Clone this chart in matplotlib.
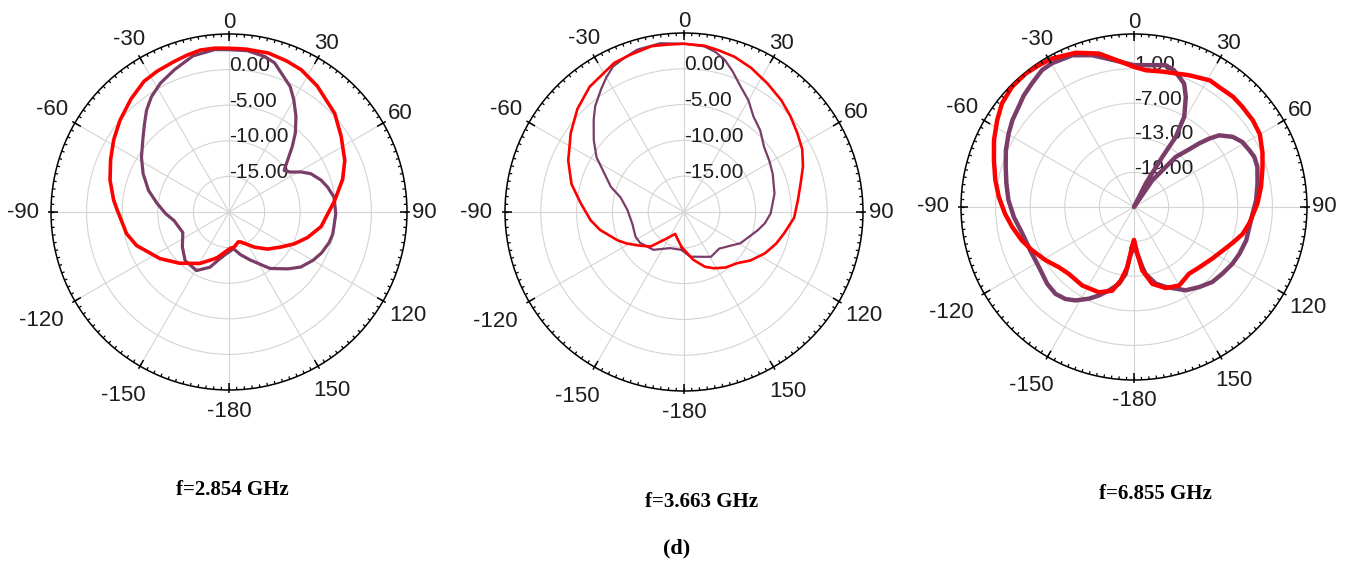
import numpy as np
import matplotlib
matplotlib.use("Agg")
import matplotlib.pyplot as plt

# ---- data (angle in deg, gain in dB) ----
# f = 2.854 GHz
red1_th = [-165, -150.5, -136, -124, -110, -102, -89, -84, -75, -66, -58, -50, -41, -33, -27, -20,
           -15, -10, -5, 0, 6, 14, 21, 27, 35, 47, 56, 66, 74, 84, 99, 108, 116, 124, 134, 144,
           159, 163, 172, 178]
red1_db = [-13.3, -11.7, -10.0, -8.3, -6.2, -5.3, -4.3, -3.7, -2.7, -1.8, -0.9, 0.0, 1.0, 1.9,
           2.2, 2.5, 2.8, 3.1, 3.1, 3.0, 3.0, 3.0, 2.7, 2.4, 1.6, 0.3, -1.0, -2.2, -3.4, -5.1,
           -6.9, -8.4, -9.8, -11.2, -12.5, -13.9, -15.5, -15.6, -15.0, -14.9]
pur1_th = [-171, -161, -151, -138, -127, -114, -99, -91.5, -83, -75, -66, -58, -50, -44, -39, -34,
           -28, -21, -13, -5, 0, 6.5, 13, 17, 22, 26, 30, 35, 40, 44, 48.5, 53, 57, 61, 65, 71,
           76, 82, 91, 102, 107, 114, 120, 127.5, 134, 144, 156, 165, 173]
pur1_db = [-13.6, -11.8, -10.6, -10.8, -11.8, -12.9, -12.2, -11.1, -9.8, -8.3, -6.8, -5.5, -4.2,
           -2.9, -1.6, -0.5, 0.5, 1.4, 2.5, 2.9, 2.8, 2.8, 2.4, 1.9, 0.5, -0.4, -1.8, -3.6, -5.5,
           -7.2, -9.0, -10.3, -9.7, -8.4, -7.3, -6.3, -5.7, -5.1, -5.0, -5.1, -5.3, -5.8, -6.4,
           -7.3, -8.5, -10.2, -12.6, -13.8, -14.8]

# f = 3.663 GHz
red2_th = [-176, -168, -158, -147, -136, -127, -119, -113, -102, -95, -85, -76, -66, -55, -46, -37,
           -25, -19, -11, -6, 0, 7, 12, 18, 25, 33, 41, 48, 55, 62, 69, 76, 84, 93, 102, 109, 117,
           126, 134, 143, 152, 159, 169]
red2_db = [-15.1, -16.0, -16.7, -15.6, -13.3, -12.2, -10.9, -9.9, -8.0, -6.9, -5.5, -3.8, -2.3,
           -0.7, 0.7, 1.9, 3.0, 3.2, 3.6, 3.5, 3.5, 3.4, 3.1, 2.8, 2.2, 1.4, 0.7, 0.0, -0.7, -1.3,
           -2.2, -3.2, -4.0, -4.6, -5.7, -6.4, -7.3, -8.5, -9.7, -10.3, -11.1, -11.8, -13.2]
pur2_th = [-176, -159, -141, -125, -117, -103, -88, -77, -71, -64, -58, -51.5, -44.5, -40, -34,
           -30, -26, -21, -16, -8, 0, 7, 11, 15, 19, 24, 30, 36, 43, 51, 59, 66.5, 78.5, 91, 98,
           104, 119, 136, 149, 157, 172]
pur2_db = [-14.7, -14.6, -13.2, -12.5, -12.4, -12.6, -12.1, -10.9, -9.2, -7.6, -5.6, -3.9, -2.0,
           -0.7, 0.7, 1.7, 2.6, 3.1, 3.6, 3.8, 3.5, 3.3, 2.8, 2.0, 0.8, -0.7, -2.0, -3.5, -4.4,
           -5.6, -6.1, -6.5, -7.1, -7.9, -8.6, -9.4, -11.0, -12.9, -12.7, -13.2, -13.7]

# f = 6.855 GHz
red3_th = [-177, -173.7, -169.7, -165.4, -157.6, -146.6, -135.7, -128.7, -121, -113, -106.6,
           -99.3, -93, -85.8, -79, -71.6, -64.5, -57.6, -51.9, -45.4, -39, -33.8, -28.8, -20.7,
           -12.9, -7, 0, 5, 12, 23, 31, 35, 42, 47, 54, 60, 67, 73, 81, 88.5, 98, 104, 110, 123,
           133, 140.5, 150, 158.6, 166.6, 172.5, 176, 180]
red3_db = [-18.0, -14.5, -12.0, -10.0, -9.0, -8.7, -8.8, -8.3, -7.1, -5.8, -4.7, -3.6, -2.6, -1.5,
           -0.5, 0.6, 1.9, 3.1, 4.1, 4.7, 4.8, 4.6, 4.4, 3.6, 2.3, 0.7, -0.7, -1.2, -1.0, -0.2,
           0.6, 0.5, 0.7, 0.6, 0.5, 0.2, -0.8, -1.7, -2.7, -3.6, -4.8, -5.6, -6.8, -8.7, -9.6,
           -10.0, -9.3, -9.9, -11.3, -13.9, -16.9, -19.3]
pur3_th = [-177.5, -174.6, -172.9, -168.9, -163.3, -158.4, -153.9, -148, -143.3, -137.9, -131.5,
           -122.3, -112.8, -103.4, -94.8, -86.9, -79.6, -72.7, -66.1, -59.6, -54.5, -49, -44.6,
           -39.5, -33.9, -29.7, -22.1, -15.4, -8.4, 0, 7.4, 12.6, 16.3, 19.1, 22.1, 25.2, 29.1,
           30.8, 29.5, 26.6, 30, 34.5, 37.7, 39.8, 43.3, 45.7, 47.7, 49.9, 54.6, 59, 63.8, 67.4,
           72, 79.3, 86.9, 93.2, 99.9, 106.6, 114, 120, 127, 133.8, 140.9, 148.2, 158.4, 164.2,
           170.1, 172.1, 175.9, 180]
pur3_db = [-17.5, -15.7, -13.3, -11.4, -9.9, -8.5, -7.3, -5.9, -5.1, -4.7, -4.9, -5.5, -5.5, -5.1,
           -4.1, -3.2, -2.5, -1.7, -0.7, 0.2, 0.9, 1.5, 2.2, 2.8, 3.6, 3.7, 3.4, 2.3, 0.8, -0.4,
           -0.2, 0.2, -0.3, -1.1, -1.9, -3.9, -7.1, -10.9, -15.0, -20.5, -25.0, -19.4, -17.0,
           -13.7, -11.5, -9.2, -7.4, -5.7, -4.0, -3.1, -2.7, -2.4, -2.5, -3.2, -3.8, -4.4, -4.7,
           -4.7, -5.0, -5.3, -5.8, -6.2, -7.1, -8.0, -10.1, -11.2, -13.2, -14.5, -16.9, -18.3]

ang_ticks = [0, 30, 60, 90, 120, 150, 180, -150, -120, -90, -60, -30]
ang_labels = ['0', '30', '60', '90', '120', '150', '-180', '-150', '-120', '-90', '-60', '-30']
ang_k = [1.067, 1.09, 1.11, 1.10, 1.16, 1.16, 1.12, 1.19, 1.22, 1.16, 1.15, 1.12]

RED = '#ff0000'
PURPLE = '#7a3d68'
TXT = '#1e1e1e'


def closed(th, db):
    th = np.append(th, th[0] + 360)
    db = np.append(db, db[0])
    return np.deg2rad(th), db


def panel(rect, R, red, pur, rlim, rticks, rlabels, lw_red, lw_pur, caption, cap_xy):
    ax = fig.add_axes(rect, projection='polar')
    ax.set_theta_zero_location('N')
    ax.set_theta_direction(-1)
    ax.set_ylim(*rlim)
    ax.set_yticks(rticks)
    ax.set_yticklabels([])
    ax.set_xticks(np.deg2rad(np.arange(0, 360, 30)))
    ax.set_xticklabels([])
    ax.tick_params(axis='x', length=0)
    ax.grid(True, color='#d4d4d4', lw=0.8)
    ax.spines['polar'].set_color('black')
    ax.spines['polar'].set_linewidth(1.1)

    # tick marks on the rim
    dbpx = (rlim[1] - rlim[0]) / R
    top = rlim[1]
    ax.vlines(np.deg2rad(np.arange(0, 360, 2.5)), top - 3 * dbpx, top,
              colors='black', lw=0.9, zorder=5)
    ax.vlines(np.deg2rad(np.arange(0, 360, 30)), top - 7 * dbpx, top + 3 * dbpx,
              colors='black', lw=1.1, zorder=5, clip_on=False)

    for r, s in zip(rticks, rlabels):
        ax.annotate(s, xy=(0, r), xytext=(0, 3), textcoords='offset points',
                    ha='left', va='center', fontsize=15, color=TXT,
                    family='Liberation Sans', zorder=2)

    for a, s, k in zip(ang_ticks, ang_labels, ang_k):
        t = np.deg2rad(a)
        ax.text(0.5 + 0.5 * k * np.sin(t), 0.5 + 0.5 * k * np.cos(t), s,
                transform=ax.transAxes, ha='center', va='center', fontsize=16,
                color=TXT, family='Liberation Sans')

    th, db = closed(*pur)
    ax.plot(th, db, color=PURPLE, lw=lw_pur, zorder=3, solid_joinstyle='round')
    th, db = closed(*red)
    ax.plot(th, db, color=RED, lw=lw_red, zorder=4, solid_joinstyle='round')

    fig.text(cap_xy[0] / W, 1 - cap_xy[1] / H, caption, ha='center', va='center',
             fontsize=15, fontweight='bold', family='Liberation Serif')
    return ax


W, H = 1353, 568
fig = plt.figure(figsize=(W / 100, H / 100), dpi=100)


def rect(cx, cy, R):
    return [(cx - R) / W, (H - cy - R) / H, 2 * R / W, 2 * R / H]


panel(rect(229, 212, 178), 178, (red1_th, red1_db), (pur1_th, pur1_db), (-20, 5),
      [-15, -10, -5, 0], ['-15.00', '-10.00', '-5.00', '0.00'], 2.6, 2.3,
      'f=2.854 GHz', (232, 490))
panel(rect(684, 212, 179), 179, (red2_th, red2_db), (pur2_th, pur2_db), (-20, 5),
      [-15, -10, -5, 0], ['-15.00', '-10.00', '-5.00', '0.00'], 1.9, 1.6,
      'f=3.663 GHz', (702, 502))
panel(rect(1134, 207, 173), 173, (red3_th, red3_db), (pur3_th, pur3_db), (-25, 5),
      [-19, -13, -7, -1], ['-19.00', '-13.00', '-7.00', '1.00'], 3.2, 3.2,
      'f=6.855 GHz', (1155, 494))

fig.text(677 / W, 1 - 548 / H, '(d)', ha='center', va='center', fontsize=16,
         fontweight='bold', family='Liberation Serif')

fig.savefig('out.png', dpi=100, facecolor='white')
